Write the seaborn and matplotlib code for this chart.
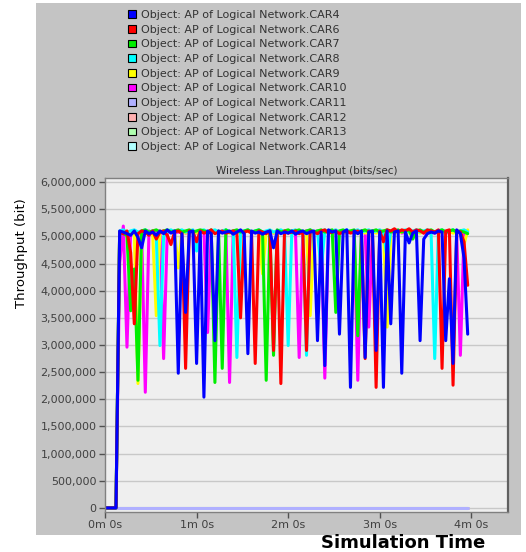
import numpy as np
import pandas as pd
import matplotlib
matplotlib.use("Agg")
import matplotlib.pyplot as plt
import seaborn as sns
from matplotlib.patches import Rectangle, Patch
from matplotlib.ticker import StrMethodFormatter

# throughput values in Mbit/s, one bucket every 2.4 s (100 buckets)
CAR4 = [0, 0, 0, 0, 5.10, 5.08, 5.05, 5.02, 5.10, 4.98,
        4.79, 5.10, 5.05, 5.08, 5.02, 5.10, 5.05, 5.12, 5.06, 5.10,
        2.48, 5.05, 3.60, 5.08, 5.10, 2.66, 5.08, 2.04, 5.10, 5.05,
        3.08, 5.10, 5.06, 5.08, 5.10, 5.04, 5.08, 5.12, 5.05, 2.84,
        5.10, 5.06, 5.08, 5.04, 5.08, 5.10, 4.79, 5.10, 5.05, 5.08,
        5.06, 5.10, 5.04, 5.08, 5.10, 5.05, 5.08, 5.10, 3.08, 5.08,
        2.62, 5.12, 5.08, 5.10, 3.20, 5.08, 5.12, 2.22, 5.10, 5.05,
        5.10, 2.77, 5.08, 5.10, 2.90, 5.08, 2.22, 5.10, 3.39, 5.08,
        5.10, 2.48, 5.08, 4.88, 5.06, 5.10, 3.08, 4.95, 5.05, 5.08,
        5.06, 5.10, 5.08, 3.08, 4.22, 2.66, 5.12, 5.05, 4.60, 3.20]
CAR6 = [0, 0, 0, 0, 5.08, 5.05, 5.10, 4.70, 3.39, 5.05,
        5.10, 5.08, 5.02, 5.10, 4.95, 5.08, 5.10, 5.02, 4.85, 5.08,
        5.10, 5.05, 2.57, 5.10, 5.08, 4.90, 5.10, 5.06, 5.08, 5.12,
        5.05, 5.08, 5.10, 5.06, 5.08, 5.10, 5.05, 3.50, 5.08, 5.10,
        5.06, 2.66, 5.10, 5.08, 5.05, 5.10, 2.90, 5.08, 2.29, 5.10,
        5.06, 5.08, 5.10, 5.05, 5.08, 2.90, 5.10, 5.08, 5.05, 5.10,
        5.12, 5.06, 5.08, 5.10, 5.05, 5.08, 5.10, 5.06, 5.08, 5.10,
        5.05, 2.75, 5.10, 5.08, 2.22, 5.10, 4.90, 5.12, 5.10, 5.14,
        5.08, 5.12, 5.10, 5.14, 5.08, 5.12, 5.10, 5.06, 5.12, 5.10,
        5.08, 5.12, 2.57, 5.10, 5.12, 2.26, 5.10, 5.08, 4.90, 4.10]
CAR7 = [0, 0, 0, 0, 5.08, 5.05, 5.02, 3.63, 4.40, 2.35,
        5.10, 5.12, 5.08, 5.10, 5.12, 5.08, 5.10, 5.12, 5.08, 5.10,
        5.12, 5.08, 5.10, 5.12, 5.08, 5.10, 5.12, 5.10, 5.08, 5.12,
        2.31, 5.10, 2.57, 5.12, 5.08, 5.10, 5.12, 5.08, 5.10, 5.12,
        5.08, 5.10, 5.12, 5.08, 2.35, 5.10, 2.81, 5.12, 5.08, 5.10,
        5.12, 5.08, 5.10, 5.12, 5.08, 5.10, 5.12, 5.08, 5.10, 5.12,
        5.08, 5.10, 5.12, 3.60, 5.10, 5.12, 5.08, 5.10, 5.12, 3.17,
        5.10, 5.12, 5.08, 5.10, 5.12, 5.08, 5.10, 5.12, 5.08, 5.10,
        5.12, 5.08, 5.10, 5.12, 4.95, 5.10, 5.12, 5.08, 5.10, 5.12,
        5.08, 5.10, 5.12, 5.08, 5.10, 5.12, 5.08, 5.10, 5.08, 5.05]
CAR8 = [0, 0, 0, 0, 5.10, 5.12, 5.08, 5.10, 5.12, 5.08,
        5.10, 5.12, 5.08, 5.10, 5.00, 2.99, 5.00, 5.10, 5.12, 5.08,
        5.10, 5.12, 5.08, 5.10, 5.12, 4.73, 5.10, 5.12, 5.08, 5.10,
        5.12, 5.08, 5.10, 5.12, 5.08, 5.10, 2.77, 5.08, 5.10, 5.12,
        5.08, 5.10, 5.12, 5.08, 5.10, 5.12, 5.08, 5.10, 5.12, 5.08,
        2.99, 5.10, 5.12, 5.08, 5.10, 2.81, 5.12, 5.08, 5.10, 4.37,
        5.12, 5.08, 5.10, 5.12, 5.08, 5.10, 5.12, 5.08, 5.10, 5.12,
        5.08, 5.10, 5.12, 5.08, 5.10, 5.12, 5.08, 4.60, 5.10, 5.12,
        5.08, 5.10, 5.12, 5.08, 5.10, 5.12, 5.08, 5.10, 5.12, 5.08,
        2.75, 5.10, 5.12, 5.08, 5.10, 5.12, 5.08, 5.10, 5.12, 5.08]
CAR9 = [0, 0, 0, 0, 5.08, 5.10, 5.06, 5.08, 5.10, 2.29,
        5.08, 5.10, 5.06, 5.08, 3.54, 5.10, 5.06, 5.08, 5.10, 5.06,
        4.42, 5.10, 5.06, 5.08, 5.10, 5.06, 5.08, 5.10, 5.06, 5.08,
        5.10, 5.06, 5.08, 5.10, 5.06, 5.08, 5.10, 5.06, 5.08, 5.10,
        5.06, 5.08, 5.10, 4.31, 5.08, 5.10, 5.06, 5.08, 5.10, 5.06,
        5.08, 5.10, 5.06, 5.08, 5.10, 5.06, 3.54, 5.08, 5.10, 5.06,
        5.08, 5.10, 5.06, 5.08, 5.10, 5.06, 5.08, 5.10, 5.06, 5.08,
        5.10, 5.06, 5.08, 5.10, 5.06, 5.08, 5.10, 3.33, 5.08, 5.10,
        5.06, 5.08, 5.10, 5.06, 5.08, 5.10, 5.06, 5.08, 5.10, 5.06,
        5.08, 5.10, 5.06, 5.08, 5.10, 5.06, 5.08, 5.10, 4.85, 5.12]
CAR10 = [0, 0, 0, 0, 4.50, 5.19, 2.96, 5.08, 5.10, 5.06,
         5.08, 2.13, 5.10, 5.06, 5.08, 5.10, 2.75, 5.08, 5.10, 5.06,
         5.08, 5.10, 5.06, 5.08, 5.10, 5.06, 5.08, 5.10, 3.23, 5.08,
         5.10, 5.06, 5.08, 5.10, 2.31, 5.08, 5.10, 5.06, 5.08, 5.10,
         5.06, 5.08, 5.10, 5.06, 5.08, 5.10, 5.06, 5.08, 5.10, 5.06,
         5.08, 5.10, 5.06, 2.77, 5.08, 5.10, 5.06, 5.08, 5.10, 5.06,
         2.39, 5.08, 5.10, 5.06, 5.08, 5.10, 5.06, 5.08, 5.10, 2.35,
         5.08, 5.10, 3.33, 5.08, 5.10, 5.06, 5.08, 5.10, 5.06, 5.08,
         5.10, 5.06, 5.08, 5.10, 5.06, 5.08, 5.10, 5.06, 5.08, 5.10,
         5.06, 5.08, 5.10, 5.06, 5.08, 5.10, 5.06, 2.81, 5.08, 5.10]
CAR11 = [0] * 100
CAR12 = [0] * 100
CAR13 = [0] * 100
CAR14 = [0] * 100

CARS = ["CAR4", "CAR6", "CAR7", "CAR8", "CAR9", "CAR10",
        "CAR11", "CAR12", "CAR13", "CAR14"]
SERIES = [CAR4, CAR6, CAR7, CAR8, CAR9, CAR10, CAR11, CAR12, CAR13, CAR14]
COLORS = ["#0000ff", "#ff0000", "#00ee00", "#00ffff", "#ffff00", "#ff00ff",
          "#b0b0ff", "#ffb0b0", "#b0ffb0", "#b0ffff"]
XTICKS = [0, 60, 120, 180, 240]
XTICK_LABELS = ["0m 0s", "1m 0s", "2m 0s", "3m 0s", "4m 0s"]

labels = ["Object: AP of Logical Network." + c for c in CARS]
time = np.arange(100) * 2.4

df = pd.concat([pd.DataFrame({"time": time, "throughput": np.array(v) * 1e6, "series": lab})
                for lab, v in zip(labels, SERIES)], ignore_index=True)
palette = dict(zip(labels, COLORS))

sns.set_style("white")
plt.rcParams["font.family"] = ["DejaVu Sans"]

W, H = 526, 552
fig = plt.figure(figsize=(W / 100, H / 100), dpi=100)
fig.patches.append(Rectangle((36 / W, 1 - 535 / H), (521 - 36) / W, (535 - 3) / H,
                             transform=fig.transFigure, facecolor="#c4c4c4",
                             edgecolor="none", zorder=-5))

ax = fig.add_axes([105 / W, 1 - 512 / H, (508 - 105) / W, (512 - 178) / H])
ax.set_zorder(2)
ax.set_facecolor("#efefef")

# last car drawn first so CAR4 ends on top
sns.lineplot(data=df, x="time", y="throughput", hue="series", hue_order=labels[::-1],
             palette=palette, estimator=None, sort=False, linewidth=2.2,
             legend=False, ax=ax)

ax.set_xlim(0, 264)
ax.set_ylim(-75000, 6075000)
ax.set_yticks(np.arange(0, 6000001, 500000))
ax.yaxis.set_major_formatter(StrMethodFormatter("{x:,.0f}"))
ax.set_xticks(XTICKS)
ax.set_xticklabels(XTICK_LABELS)
ax.tick_params(axis="both", which="major", labelsize=8, labelcolor="#404040",
               colors="#505050", length=4, width=1, pad=2, direction="out",
               left=True, bottom=True)
ax.yaxis.grid(True, color="#c8c8c8", linewidth=1)
ax.set_axisbelow(True)
for side in ["left", "bottom", "top"]:
    ax.spines[side].set_color("#808080")
    ax.spines[side].set_linewidth(1)
ax.spines["right"].set_color("#606060")
ax.spines["right"].set_linewidth(1.6)
ax.set_xlabel("")
ax.set_ylabel("")
ax.set_title("Wireless Lan.Throughput (bits/sec)", fontsize=7.5, color="#303030", pad=3)

handles = [Patch(facecolor=c, edgecolor="black", linewidth=0.8) for c in COLORS]
fig.legend(handles, labels, loc="upper left", bbox_to_anchor=(128 / W, 1 - 10 / H),
           frameon=False, fontsize=8, handlelength=0.7, handleheight=0.7,
           handletextpad=0.5, labelspacing=0.42, borderpad=0, borderaxespad=0,
           labelcolor="#333333")

fig.text(22 / W, 1 - 253 / H, "Throughput (bit)", rotation=90, ha="center", va="center",
         fontsize=9.5, color="black")
fig.text(403 / W, 1 - 543 / H, "Simulation Time", ha="center", va="center",
         fontsize=13, fontweight="bold", color="black")

fig.savefig("out.png", dpi=100)
